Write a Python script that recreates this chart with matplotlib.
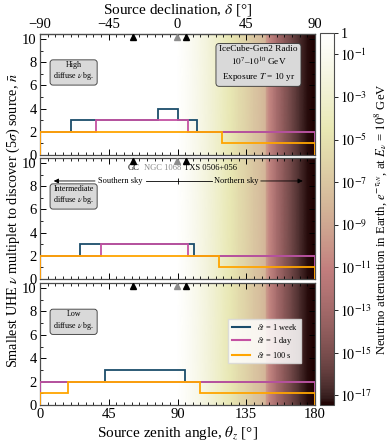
import numpy as np
import matplotlib
matplotlib.use('Agg')
import matplotlib.pyplot as plt
import matplotlib.ticker as ticker
from matplotlib.colors import LogNorm
from matplotlib.lines import Line2D

plt.rcParams['font.family'] = ['Liberation Serif', 'DejaVu Serif']
plt.rcParams['mathtext.fontset'] = 'stix'
plt.rcParams['axes.unicode_minus'] = True

# Earth attenuation at E = 1e8 GeV (log10)
zen_grid = [0, 90, 95, 100, 105, 110, 115, 120, 125, 130, 135, 140, 145, 147.5,
            148.5, 150, 155, 160, 165, 170, 175, 180]
log_att = [0, 0, -0.5, -1.07, -1.7, -2.36, -3.1, -3.85, -4.6, -5.5, -6.2, -7.0, -7.7, -8.1,
           -9.8, -10.7, -12.8, -14.3, -15.5, -16.6, -17.3, -17.45]

# smallest multiplet, step edges in zenith angle [deg]
high_week_edges = [0, 20, 77, 90.5, 102.5, 180]
high_week = [2, 3, 4, 3, 2]
high_day_edges = [0, 36.5, 97, 180]
high_day = [2, 3, 2]
high_100s_edges = [0, 119, 180]
high_100s = [2, 1]

mid_week_edges = [0, 26.3, 101, 180]
mid_week = [2, 3, 2]
mid_day_edges = [0, 40, 97, 180]
mid_day = [2, 3, 2]
mid_100s_edges = [0, 117, 180]
mid_100s = [2, 1]

low_week_edges = [0, 42.3, 95, 180]
low_week = [2, 3, 2]
low_day_edges = [0, 180]
low_day = [2]
low_100s_edges = [0, 18.2, 105, 180]
low_100s = [1, 2, 1]

# sources (declination, deg)
src_names = ['GC', 'NGC 1068', 'TXS 0506+056']
src_dec = [-29.0, -0.01, 5.7]
src_colors = ['black', '0.55', 'black']
src_label_x = [61, 80.5, 111.5]

c_week = '#1b4d6b'
c_day = '#c452a2'
c_100s = '#ffa500'

panels = [
    ('High\ndiffuse $\\nu$ bg.', [(high_week_edges, high_week), (high_day_edges, high_day), (high_100s_edges, high_100s)]),
    ('Intermediate\ndiffuse $\\nu$ bg.', [(mid_week_edges, mid_week), (mid_day_edges, mid_day), (mid_100s_edges, mid_100s)]),
    ('Low\ndiffuse $\\nu$ bg.', [(low_week_edges, low_week), (low_day_edges, low_day), (low_100s_edges, low_100s)]),
]
colors = [c_week, c_day, c_100s]

fig = plt.figure(figsize=(3.88, 4.45), dpi=100)
W, H = 388., 445.
left, right = 40 / W, 315 / W
tops = [34, 158, 283]
bots = [155, 279, 405]
ymax = 10.43
norm = LogNorm(vmin=10 ** -17.45, vmax=1)

zen = np.array(zen_grid)
att = 10 ** np.array(log_att)
axes = []
for i, (label, series) in enumerate(panels):
    ax = fig.add_axes([left, 1 - bots[i] / H, right - left, (bots[i] - tops[i]) / H])
    axes.append(ax)
    X, Y = np.meshgrid(zen, [0, ymax])
    C = np.vstack([att, att])
    mesh = ax.pcolormesh(X, Y, C, cmap='pink', norm=norm, shading='gouraud', zorder=0, rasterized=True)
    for (edges, vals), col in zip(series, colors):
        ax.stairs(vals, edges, baseline=0, color=col, lw=1.3, zorder=3)
    ax.set_xlim(0, 180)
    ax.set_ylim(0, ymax)
    ax.set_yticks([0, 2, 4, 6, 8, 10])
    ax.yaxis.set_minor_locator(ticker.MultipleLocator(1))
    ax.set_xticks([0, 45, 90, 135, 180])
    ax.xaxis.set_minor_locator(ticker.MultipleLocator(5))
    ax.tick_params(which='both', direction='in', top=(i > 0), right=True, labelsize=10.5, pad=2.5)
    ax.tick_params(which='major', length=4, width=0.7)
    ax.tick_params(which='minor', length=2, width=0.6)
    for sp in ax.spines.values():
        sp.set_color('0.3')
        sp.set_linewidth(0.9)
    if i < 2:
        ax.tick_params(labelbottom=False)
    # source markers
    for d, c in zip(src_dec, src_colors):
        ax.plot(d + 90, 10.2, marker='^', color=c, ms=4.5, ls='none', zorder=4, clip_on=False)
    ax.text(22, 7.2, label, ha='center', va='center', fontsize=5.8, zorder=5,
            bbox=dict(boxstyle='round,pad=0.35', fc='0.85', ec='0.2', lw=0.6))

ax1, ax2, ax3 = axes

sec = ax1.secondary_xaxis('top', functions=(lambda t: t - 90, lambda d: d + 90))
sec.set_xticks([-90, -45, 0, 45, 90])
sec.xaxis.set_minor_locator(ticker.MultipleLocator(5))
sec.tick_params(which='both', direction='in', labelsize=10.5, pad=2.5)
sec.tick_params(which='major', length=4, width=0.7)
sec.tick_params(which='minor', length=2, width=0.6)
sec.set_xlabel('Source declination, $\\delta$ [°]', fontsize=11, labelpad=3)

ax1.text(143, 7.85, 'IceCube-Gen2 Radio\n$10^7$–$10^{10}$ GeV\nExposure $T$ = 10 yr',
         ha='center', va='center', fontsize=6.7, linespacing=1.35, zorder=5,
         bbox=dict(boxstyle='round,pad=0.35', fc='0.85', ec='0.2', lw=0.6))

# source names and sky hemispheres in middle panel
for name, lx, c in zip(src_names, src_label_x, src_colors):
    ax2.text(lx, 9.6, name, ha='center', va='center', fontsize=6.1, color=c)
ys = 8.45
ax2.text(52.5, ys, 'Southern sky', ha='center', va='center', fontsize=6)
ax2.text(128.5, ys, 'Northern sky', ha='center', va='center', fontsize=6)
ax2.annotate('', xy=(9, ys), xytext=(36, ys),
             arrowprops=dict(arrowstyle='-|>', color='black', lw=0.6, mutation_scale=7, shrinkA=0, shrinkB=0))
ax2.annotate('', xy=(172, ys), xytext=(144.5, ys),
             arrowprops=dict(arrowstyle='-|>', color='black', lw=0.6, mutation_scale=7, shrinkA=0, shrinkB=0))
ax2.plot([69.5, 112.5], [ys, ys], color='black', lw=0.6)
ax2.plot([90], [ys], marker='|', color='black', ms=5, mew=0.6)

handles = [Line2D([], [], color=c, lw=1.5) for c in colors]
ax3.legend(handles, ['$\\delta t$ = 1 week', '$\\delta t$ = 1 day', '$\\delta t$ = 100 s'],
           loc='center right', bbox_to_anchor=(0.965, 0.525), fontsize=6, frameon=True,
           fancybox=False, framealpha=0.85, edgecolor='0.85', handlelength=2.2,
           borderpad=0.4, labelspacing=0.35)

ax3.set_xlabel('Source zenith angle, $\\theta_z$ [°]', fontsize=11, labelpad=2)
fig.text(0.035, 1 - 220 / H, 'Smallest UHE $\\nu$ multiplet to discover (5$\\sigma$) source, $\\bar{n}$',
         rotation=90, ha='center', va='center', fontsize=10.2)

cax = fig.add_axes([320 / W, 1 - 405 / H, 14 / W, (405 - 33) / H])
cb = fig.colorbar(mesh, cax=cax)
cb_ticks = [1e0, 1e-1, 1e-3, 1e-5, 1e-7, 1e-9, 1e-11, 1e-13, 1e-15, 1e-17]
cb.set_ticks(cb_ticks)
cb.set_ticklabels(['1'] + ['$10^{%d}$' % int(np.log10(t)) for t in cb_ticks[1:]])
cb.ax.minorticks_off()
cb.ax.tick_params(labelsize=10, length=3, width=0.6, pad=1.5)
cb.outline.set_edgecolor('0.3')
cb.set_label('Neutrino attenuation in Earth, $e^{-\\tau_{\\nu N}}$, at $E_\\nu$ = $10^8$ GeV',
             fontsize=9.2, labelpad=0)

fig.savefig('out.png', dpi=100)
